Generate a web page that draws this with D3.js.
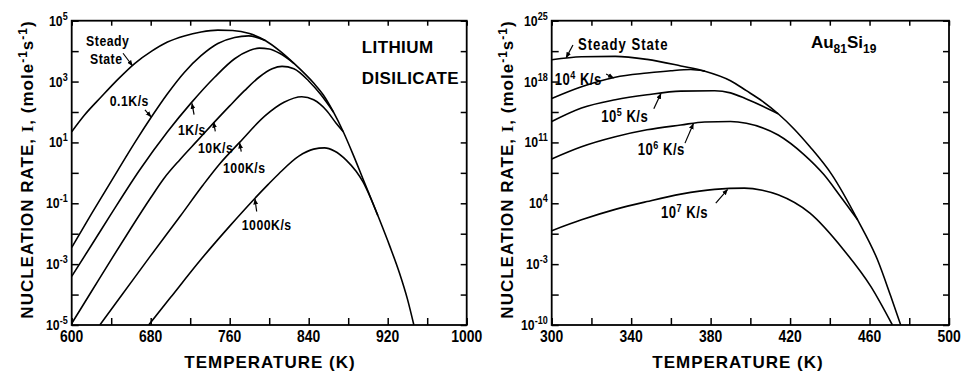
<!DOCTYPE html>
<html>
<head>
<meta charset="utf-8">
<script src="https://cdn.jsdelivr.net/npm/d3@7"></script>
<style>
  body { margin: 0; background: #fff; }
  svg { display: block; }
  text { fill: #000; font-family: "Liberation Sans", Arial, sans-serif; font-weight: bold; }
  .title { font-size: 17px; letter-spacing: 1px; }
</style>
</head>
<body>
<svg id="chart" width="962" height="372"></svg>
<script>
// ---- Lithium disilicate: [temperature K, log10 I] ----
const liSteady = [[600,1.35],[613,1.9],[630,2.5],[647,3.08],[664,3.6],[681,4.0],[697,4.3],[714,4.5],[731,4.63],[748,4.69],[763,4.68],[780,4.58],[796,4.35],[811,4.0],[825,3.6],[845,2.95],[855,2.55],[865,2.0],[875,1.35],[885,0.6],[895,-0.2],[910,-1.4],[922,-2.4],[932,-3.3],[940,-4.15],[946.5,-5]]
const liRate01 = [[600,-2.45],[620,-1.35],[647,0.1],[665,1.05],[681,1.85],[697,2.6],[714,3.3],[731,3.85],[748,4.25],[765,4.45],[779,4.5],[796,4.35]]
const liRate1 = [[600,-3.4],[620,-2.38],[640,-1.35],[669,0.1],[697,1.35],[721,2.3],[745,3.15],[765,3.75],[780,4.02],[790,4.1],[800,4.07],[811,3.92],[825,3.6]]
const liRate10 = [[600,-4.95],[620,-3.9],[640,-2.85],[660,-1.82],[680,-0.82],[693,-0.2],[710,0.45],[727,1.05],[744,1.65],[760,2.2],[775,2.7],[790,3.15],[803,3.42],[813,3.5],[825,3.42],[840,3.02],[852,2.58],[865,2.0]]
const liRate100 = [[628.5,-5],[650,-4.05],[680,-2.72],[710,-1.42],[733,-0.4],[750,0.3],[770,1.0],[796,1.88],[815,2.32],[833,2.5],[845,2.4],[858,2.05],[868,1.62],[875,1.35]]
const liRate1000 = [[678,-5],[700,-4.1],[730,-2.88],[760,-1.75],[784,-0.89],[799,-0.38],[810,-0.02],[830,0.55],[845,0.78],[856,0.82],[866,0.72],[878,0.42],[888,0.05],[895,-0.3],[903,-0.85],[910,-1.4]]

const liXTicks = [600,640,680,720,760,800,840,880,920,960,1000]
const liXLabels = [600,680,760,840,920,1000]
const liYTicks = [-5,-4,-3,-2,-1,0,1,2,3,4,5]
const liYLabels = [-5,-3,-1,1,3,5]

const liNotes = [
  { parts: [["Steady"]], at: [614.6, 4.18] },
  { parts: [["State"]], at: [618.5, 3.59] },
  { parts: [["0.1K/s"]], at: [638.5, 2.2] },
  { parts: [["1K/s"]], at: [707.6, 1.25] },
  { parts: [["10K/s"]], at: [727.9, 0.66] },
  { parts: [["100K/s"]], at: [753.2, 0.0] },
  { parts: [["1000K/s"]], at: [772.2, -1.875] },
]
const liArrows = [
  [[652, 3.93], [661.5, 3.52]],
  [[674.2, 2.07], [680.3, 1.84]],
  [[723.9, 1.91], [721.8, 2.28]],
  [[745.4, 1.36], [743.8, 1.66]],
  [[771.7, 0.7], [770.1, 0.98]],
  [[787.3, -1.27], [785.6, -0.86]],
]
const liTag = [["LITHIUM", 893.7, 3.95], ["DISILICATE", 893.7, 2.93]]

// ---- Au81Si19: [temperature K, log10 I] ----
const auSteady = [[300,20.5],[315,20.85],[332,20.9],[348,20.55],[365,19.8],[377,19.2],[390,18.1],[398,16.95],[406,15.75],[414,14.3],[422,12.55],[430,10.5],[441,7.3],[454,2.1],[464,-2.5],[470.7,-6.7],[475.7,-10]]
const auRate4 = [[300,16.05],[315,17.4],[332,18.5],[348,18.98],[360,19.25],[370,19.38],[377,19.2]]
const auRate5 = [[300,13.4],[315,14.95],[332,15.9],[348,16.48],[365,16.9],[382,16.95],[390,16.7],[398,16.0],[406,15.2],[414,14.3]]
const auRate6 = [[300,9.1],[315,10.5],[332,11.65],[348,12.45],[365,13.0],[377,13.35],[390,13.4],[398,13.2],[414,11.85],[427,9.6],[437,7.3],[445,4.9],[454,2.1]]
const auRate7 = [[300,0.85],[315,2.1],[332,3.3],[348,4.2],[365,5.05],[382,5.6],[397,5.74],[406,5.5],[414,4.97],[430,2.86],[447,-1.37],[460.7,-5.59],[471.5,-10]]

const auXTicks = [300,320,340,360,380,400,420,440,460,480,500]
const auXLabels = [300,340,380,420,460,500]
const auYTicks = [-10,-6.5,-3,0.5,4,7.5,11,14.5,18,21.5,25]
const auYLabels = [-10,-3,4,11,18,25]

const auNotes = [
  { parts: [["Steady State"]], at: [313.2, 21.66], spacing: 1.2 },
  { parts: [["10"], ["4", "sup"], [" K/s"]], at: [301.5, 17.63] },
  { parts: [["10"], ["5", "sup"], [" K/s"]], at: [324.9, 13.37] },
  { parts: [["10"], ["6", "sup"], [" K/s"]], at: [343.3, 9.57] },
  { parts: [["10"], ["7", "sup"], [" K/s"]], at: [355, 2.32] },
]
const auArrows = [
  [[310.7, 22.2], [307.3, 20.75]],
  [[327.4, 18.86], [331.1, 18.42]],
  [[351.4, 14.87], [355, 16.62]],
  [[367.1, 10.92], [371.3, 13.15]],
  [[382.6, 4.01], [388.5, 5.58]],
]

// the scanned figure uses a tall narrow face; squeeze Liberation Sans like Arial Narrow
const NARROW = 0.82

const svg = d3.select("#chart")

svg.append("defs")
  .append("marker")
  .attr("id", "head")
  .attr("viewBox", "0 0 10 10")
  .attr("refX", 9)
  .attr("refY", 5)
  .attr("markerWidth", 5)
  .attr("markerHeight", 5)
  .attr("orient", "auto")
  .append("path")
  .attr("d", "M0,1 L10,5 L0,9 z")
  .attr("fill", "#000")

function narrow(sel, fx, fy) {
  return sel.attr("transform", (d) => `translate(${fx(d)},${fy(d)}) scale(${NARROW},1)`)
}

function drawPanel(p) {
  const x = d3.scaleLinear().domain(p.xDomain).range(p.xRange)
  const y = d3.scaleLog().domain(p.yDomain).range([325, 20.7])
  const g = svg.append("g")
  const [x0, x1] = p.xRange

  const line = d3
    .line()
    .x((d) => x(d[0]))
    .y((d) => y(Math.pow(10, d[1])))
    .curve(d3.curveMonotoneX)

  g.append("clipPath")
    .attr("id", p.id + "-clip")
    .append("rect")
    .attr("x", x0)
    .attr("y", 20.7)
    .attr("width", x1 - x0)
    .attr("height", 325 - 20.7)

  // curves
  g.append("g")
    .attr("clip-path", `url(#${p.id}-clip)`)
    .selectAll("path")
    .data(p.curves)
    .join("path")
    .attr("d", line)
    .attr("fill", "none")
    .attr("stroke", "#000")
    .attr("stroke-width", 1.6)

  // ticks on all four sides, pointing inward
  const tv = p.yTicks.map((e) => Math.pow(10, e))
  const axes = [
    [d3.axisBottom(x).tickValues(p.xTicks), `translate(0,325)`, 7],
    [d3.axisTop(x).tickValues(p.xTicks), `translate(0,20.7)`, 5],
    [d3.axisLeft(y).tickValues(tv), `translate(${x0},0)`, 7],
    [d3.axisRight(y).tickValues(tv), `translate(${x1},0)`, 6],
  ]
  axes.forEach(([ax, tr, len]) => {
    const a = g.append("g")
      .attr("transform", tr)
      .call(ax.tickSize(-len).tickSizeOuter(0).tickFormat(""))
    a.select(".domain").remove()
    a.selectAll("line").attr("stroke", "#000").attr("stroke-width", 1.5)
  })

  // frame
  g.append("rect")
    .attr("x", x0)
    .attr("y", 20.7)
    .attr("width", x1 - x0)
    .attr("height", 325 - 20.7)
    .attr("fill", "none")
    .attr("stroke", "#000")
    .attr("stroke-width", 1.8)

  // x tick labels
  g.selectAll("text.xl")
    .data(p.xLabels)
    .join("text")
    .attr("class", "xl")
    .call(narrow, (d) => x(d), () => 342)
    .attr("text-anchor", "middle")
    .attr("font-size", 17)
    .text((d) => d)

  // y tick labels, 10 with exponent
  const yl = g.selectAll("text.yl")
    .data(p.yLabels)
    .join("text")
    .attr("class", "yl")
    .call(narrow, () => x0 - 4, (d) => y(Math.pow(10, d)) + 5)
    .attr("text-anchor", "end")
    .attr("font-size", 15)
  yl.append("tspan").text("10")
  yl.append("tspan").attr("dy", -6).attr("font-size", 11).text((d) => (d < 0 ? "-" + -d : d))

  // axis titles
  g.append("text")
    .attr("class", "title")
    .attr("x", p.xTitleX)
    .attr("y", 368)
    .attr("text-anchor", "middle")
    .text("TEMPERATURE (K)")

  const yt = g.append("text")
    .attr("class", "title")
    .attr("transform", `translate(${p.yTitleX},169.5) rotate(-90)`)
    .attr("text-anchor", "middle")
  yt.append("tspan").text("NUCLEATION  RATE, ")
  yt.append("tspan").attr("font-family", "Liberation Serif, serif").text("I")
  yt.append("tspan").text(", (mole")
  yt.append("tspan").attr("dy", -6).attr("font-size", 12).text("-1")
  yt.append("tspan").attr("dy", 6).text("s")
  yt.append("tspan").attr("dy", -6).attr("font-size", 12).text("-1")
  yt.append("tspan").attr("dy", 6).text(")")

  // curve labels
  p.notes.forEach((n) => {
    const t = g.append("text")
      .datum(n)
      .call(narrow, (d) => x(d.at[0]), (d) => y(Math.pow(10, d.at[1])))
      .attr("font-size", p.noteSize)
      .attr("letter-spacing", n.spacing || 0.6)
    let up = 0
    n.parts.forEach(([s, kind]) => {
      const sp = t.append("tspan").text(s)
      if (kind === "sup") {
        sp.attr("dy", -6).attr("font-size", 11)
        up = 6
      } else if (up) {
        sp.attr("dy", up)
        up = 0
      }
    })
  })

  g.selectAll("path.arrow")
    .data(p.arrows)
    .join("path")
    .attr("class", "arrow")
    .attr("d", (d) => {
      const [a, b] = d.map((q) => [x(q[0]), y(Math.pow(10, q[1]))])
      return `M${a[0]},${a[1]}L${b[0]},${b[1]}`
    })
    .attr("stroke", "#000")
    .attr("stroke-width", 1.2)
    .attr("fill", "none")
    .attr("marker-end", "url(#head)")

  return { g, x, y }
}

const li = drawPanel({
  id: "li",
  xDomain: [600, 1000],
  xRange: [71.7, 466.7],
  yDomain: [1e-5, 1e5],
  curves: [liSteady, liRate01, liRate1, liRate10, liRate100, liRate1000],
  xTicks: liXTicks,
  xLabels: liXLabels,
  yTicks: liYTicks,
  yLabels: liYLabels,
  notes: liNotes,
  arrows: liArrows,
  noteSize: 15,
  xTitleX: 270,
  yTitleX: 33,
})

li.g.selectAll("text.tag")
  .data(liTag)
  .join("text")
  .attr("class", "tag")
  .attr("x", (d) => li.x(d[1]))
  .attr("y", (d) => li.y(Math.pow(10, d[2])))
  .attr("font-size", 17)
  .attr("letter-spacing", 0.4)
  .text((d) => d[0])

const au = drawPanel({
  id: "au",
  xDomain: [300, 500],
  xRange: [551.7, 949],
  yDomain: [1e-10, 1e25],
  curves: [auSteady, auRate4, auRate5, auRate6, auRate7],
  xTicks: auXTicks,
  xLabels: auXLabels,
  yTicks: auYTicks,
  yLabels: auYLabels,
  notes: auNotes,
  arrows: auArrows,
  noteSize: 16,
  xTitleX: 738,
  yTitleX: 513,
})

// alloy name with subscripts
const alloy = au.g.append("text")
  .attr("x", au.x(430.5))
  .attr("y", au.y(Math.pow(10, 21.89)))
  .attr("font-size", 17)
alloy.append("tspan").text("Au")
alloy.append("tspan").attr("dy", 5).attr("font-size", 12).text("81")
alloy.append("tspan").attr("dy", -5).text("Si")
alloy.append("tspan").attr("dy", 5).attr("font-size", 12).text("19")
</script>
</body>
</html>
